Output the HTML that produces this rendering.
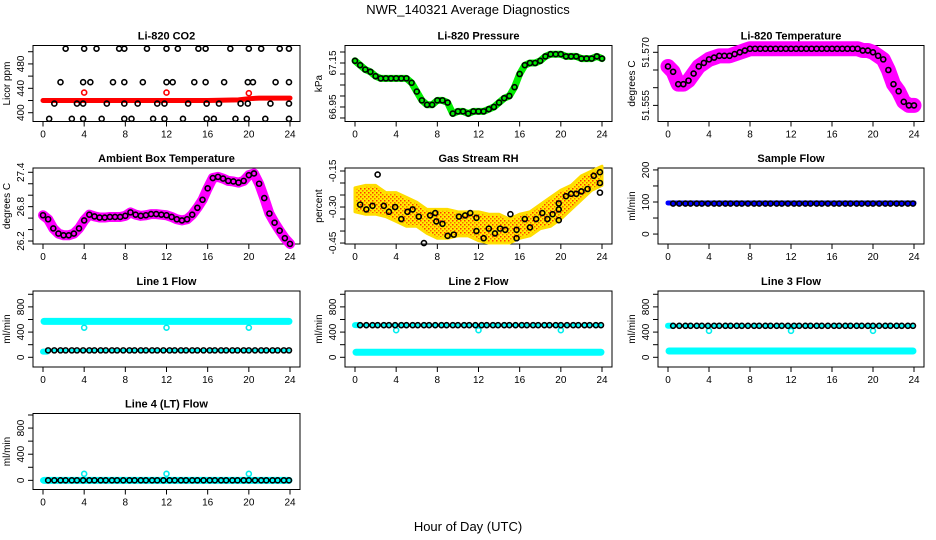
<!DOCTYPE html>
<html><head><meta charset="utf-8">
<style>
html,body{margin:0;padding:0;background:#fff;}
svg{display:block;font-family:"Liberation Sans",sans-serif;}
.t{font-weight:bold;font-size:11px;}
.tk{font-size:10px;}
</style></head>
<body>
<svg id="chart" width="936" height="540" viewBox="0 0 936 540">
<defs>
<pattern id="rhpat" width="4" height="4" patternUnits="userSpaceOnUse">
<rect width="4" height="4" fill="#ffee00"/><rect width="1.5" height="1.5" fill="#ff3300"/><rect x="2" y="2" width="1.5" height="1.5" fill="#ff6600"/>
</pattern>
</defs>
<text x="468" y="14" text-anchor="middle" font-size="13">NWR_140321  Average Diagnostics</text>
<text x="468" y="531" text-anchor="middle" font-size="13">Hour of Day (UTC)</text>
</svg>
<script>
// ---- data ----
const xTicks = [0,4,8,12,16,20,24];
const halfHours = [0,0.5,1,1.5,2,2.5,3,3.5,4,4.5,5,5.5,6,6.5,7,7.5,8,8.5,9,9.5,10,10.5,11,11.5,12,12.5,13,13.5,14,14.5,15,15.5,16,16.5,17,17.5,18,18.5,19,19.5,20,20.5,21,21.5,22,22.5,23,23.5,24];
const blackHours = [0.5,1.1,1.7,2.2,2.8,3.3,3.9,4.5,5.0,5.6,6.1,6.7,7.2,7.8,8.4,8.9,9.5,10.0,10.6,11.1,11.7,12.3,12.8,13.4,13.9,14.5,15.0,15.6,16.2,16.7,17.3,17.8,18.4,18.9,19.5,20.0,20.6,21.2,21.7,22.3,22.8,23.4,23.9];
// CO2
const co2RedHours = [0,4,8,12,16,19,20,21,24];
const co2RedValues = [420,420,420,420,420,421,423,424,424];
const co2OutlierHours = [4,12,20];
const co2OutlierValues = [433,433,432];
const co2BlackHours = [2.2,4,5.2,7.4,7.9,10.1,12,13.1,15.1,15.8,18.2,20,21.2,23,23.9, 1.7,3.9,4.6,6.8,7.9,9.7,12,12.6,14.7,15.8,17.6,19.9,20.4,22.6,23.9, 1.1,3.3,3.9,6.2,7.9,9.2,11.1,11.8,14.1,15.9,17.1,19.2,19.9,22.1,23.9, 0.6,2.8,3.9,5.7,7.9,8.6,10.7,11.8,13.6,15.9,16.6,18.7,19.8,21.6,23.9];
const co2BlackValues = [505,505,505,505,505,505,505,505,505,505,505,505,505,505,505, 450,450,450,450,450,450,450,450,450,450,450,450,450,450,450, 415,415,415,415,415,415,415,415,415,415,415,415,415,415,415, 390,390,390,390,390,390,390,390,390,390,390,390,390,390,390];
// Pressure (kPa)
const pressureValues = [67.16,67.14,67.12,67.11,67.09,67.08,67.08,67.08,67.08,67.08,67.08,67.06,67.02,66.98,66.96,66.96,66.98,66.98,66.97,66.92,66.93,66.93,66.92,66.93,66.93,66.93,66.94,66.95,66.97,66.99,67.0,67.04,67.10,67.14,67.15,67.15,67.16,67.18,67.19,67.19,67.19,67.18,67.18,67.18,67.17,67.17,67.17,67.18,67.17];
// Li-820 temperature
const licorTempValues = [51.566,51.5645,51.561,51.561,51.562,51.564,51.566,51.567,51.568,51.5685,51.569,51.569,51.569,51.5695,51.570,51.5705,51.571,51.571,51.571,51.571,51.571,51.571,51.571,51.571,51.571,51.571,51.571,51.571,51.571,51.571,51.571,51.571,51.571,51.571,51.571,51.571,51.571,51.571,51.5705,51.5705,51.570,51.569,51.568,51.565,51.561,51.559,51.556,51.555,51.555];
// Ambient box temperature
const ambientValues = [26.65,26.58,26.42,26.33,26.3,26.3,26.33,26.42,26.56,26.66,26.63,26.61,26.61,26.62,26.62,26.62,26.64,26.7,26.66,26.64,26.65,26.67,26.67,26.66,26.65,26.62,26.58,26.56,26.58,26.66,26.78,26.92,27.12,27.3,27.32,27.29,27.25,27.24,27.22,27.25,27.35,27.38,27.2,26.95,26.68,26.52,26.38,26.25,26.15];
// Gas stream RH
const rhHours = [0,1,2,3,4,5,6,7,8,9,10,11,12,13,14,15,16,17,18,19,20,21,22,23,24];
const rhMean = [-0.27,-0.27,-0.27,-0.29,-0.30,-0.32,-0.33,-0.36,-0.37,-0.37,-0.37,-0.37,-0.38,-0.39,-0.39,-0.40,-0.38,-0.37,-0.34,-0.32,-0.29,-0.26,-0.22,-0.19,-0.17];
const rhSpread = [0.05,0.06,0.06,0.05,0.06,0.06,0.05,0.05,0.06,0.06,0.05,0.05,0.06,0.06,0.06,0.05,0.05,0.05,0.05,0.06,0.06,0.05,0.05,0.04,0.04];
const rhBlackHours = [0.5,1.1,1.7,2.2,2.8,3.3,3.9,4.5,5.1,5.6,6.2,6.7,7.3,7.8,7.9,8.5,9.0,9.6,10.1,10.7,11.2,11.8,11.8,12.5,13,13.6,14.1,14.6,15.1,15.7,15.7,16.5,17,17.6,18.2,18.7,19.2,19.8,19.8,19.8,20.5,21,21.5,22,22.6,23.2,23.8,23.8,23.8];
const rhBlackValues = [-0.29,-0.31,-0.295,-0.165,-0.295,-0.32,-0.30,-0.35,-0.32,-0.31,-0.34,-0.45,-0.335,-0.325,-0.36,-0.37,-0.42,-0.415,-0.34,-0.335,-0.325,-0.345,-0.40,-0.43,-0.39,-0.41,-0.39,-0.395,-0.33,-0.395,-0.43,-0.35,-0.385,-0.35,-0.325,-0.35,-0.33,-0.355,-0.31,-0.285,-0.255,-0.245,-0.245,-0.235,-0.225,-0.17,-0.155,-0.2,-0.24];
// Sample flow
const sampleBlue = 97;
const sampleBlack = 95;
// Line flows
const flowNames = ["Line 1 Flow","Line 2 Flow","Line 3 Flow","Line 4 (LT) Flow"];
const flowBlack = [110,510,500,0];
const flowCyanMain = [570,80,100,0];
const flowCyanStart = [90,510,500,0];
const flowCyanOutlier = [470,430,420,100];
const outlierHours = [4,12,20];

// ---- layout ----
const svg = document.getElementById('chart');
const NS = 'http://www.w3.org/2000/svg';
const colL = [33,345,658], colR = [300,612,924];
const rowT = [45.5,168,291,413.5], BH = 76;
function mk(tag, attrs, parent){const e=document.createElementNS(NS,tag);for(const k in attrs)e.setAttribute(k,attrs[k]);(parent||svg).appendChild(e);return e;}

function panel(col,row,title,ylab,ymin,ymax,yt,ylabels,name){
  const L=colL[col],R=colR[col],T=rowT[row],B=T+BH;
  const g=mk('g',{});
  
  
  const xs=h=>L+10+(R-L-20)*h/24;
  const ys=v=>B-(v-ymin)/(ymax-ymin)*BH;
  const box=mk('rect',{x:L,y:T,width:R-L,height:BH,fill:'none',stroke:'#000','stroke-width':1},g);
  
  
  const tt=mk('text',{x:(L+R)/2,y:T-6,'text-anchor':'middle',class:'t'},g);tt.textContent=title;
  
  
  const xa=mk('g',{},g);
  
  
  mk('line',{x1:xs(0),x2:xs(24),y1:B,y2:B,stroke:'#000'},xa);
  xTicks.forEach(t=>{mk('line',{x1:xs(t),x2:xs(t),y1:B,y2:B+5,stroke:'#000'},xa);
    const tx=mk('text',{x:xs(t),y:B+16,'text-anchor':'middle',class:'tk'},xa);tx.textContent=t;});
  const ya=mk('g',{},g);
  
  
  mk('line',{x1:L,x2:L,y1:ys(yt[0]),y2:ys(yt[yt.length-1]),stroke:'#000'},ya);
  yt.forEach(t=>mk('line',{x1:L-5,x2:L,y1:ys(t),y2:ys(t),stroke:'#000'},ya));
  ylabels.forEach(l=>{const tx=mk('text',{x:L-9,y:ys(l[0]),'text-anchor':'middle',class:'tk',transform:`rotate(-90 ${L-9} ${ys(l[0])})`},ya);tx.textContent=l[1];});
  const yl=mk('text',{x:L-23,y:(T+B)/2,'text-anchor':'middle',class:'tk',transform:`rotate(-90 ${L-23} ${(T+B)/2})`},g);yl.textContent=ylab;
  
  
  return {g,xs,ys};
}
function band(p,hs,vs,color,w,name){
  const pl=mk('polyline',{points:hs.map((h,i)=>p.xs(h)+','+p.ys(vs[i])).join(' '),fill:'none',stroke:color,'stroke-width':w,'stroke-linejoin':'round','stroke-linecap':'round'},p.g);
  
  
}
function pts(p,hs,vs,color,name,r){
  const g=mk('g',{},p.g);
  
  
  hs.forEach((h,i)=>mk('circle',{cx:p.xs(h),cy:p.ys(vs[i]),r:r||2.5,fill:'none',stroke:color,'stroke-width':1.6},g));
}

let p=panel(0,0,'Li-820 CO2','Licor ppm',385.6,510.2,[400,420,440,460,480,500],[[400,'400'],[440,'440'],[480,'480']],'co2-panel');
band(p,co2RedHours,co2RedValues,'#ff0000',5,'co2-red-series');
pts(p,co2OutlierHours,co2OutlierValues,'#ff0000','co2-red-outliers');
pts(p,co2BlackHours,co2BlackValues,'#000','co2-black-points');

p=panel(1,0,'Li-820 Pressure','kPa',66.884,67.2295,[66.9,66.95,67.0,67.05,67.1,67.15,67.2],[[66.95,'66.95'],[67.15,'67.15']],'pressure-panel');
band(p,halfHours,pressureValues,'#00ee00',7,'pressure-green-series');
pts(p,halfHours,pressureValues,'#000','pressure-black-points');

p=panel(2,0,'Li-820 Temperature','degrees C',51.55045,51.57192,[51.555,51.56,51.565,51.57],[[51.555,'51.555'],[51.57,'51.570']],'licor-temp-panel');
band(p,halfHours,licorTempValues,'#ff00ff',15,'licor-temp-magenta-series');
pts(p,halfHours,licorTempValues,'#000','licor-temp-black-points');

p=panel(0,1,'Ambient Box Temperature','degrees C',26.148,27.475,[26.2,26.4,26.6,26.8,27.0,27.2,27.4],[[26.2,'26.2'],[26.8,'26.8'],[27.4,'27.4']],'ambient-temp-panel');
band(p,halfHours,ambientValues,'#ff00ff',10,'ambient-magenta-series');
pts(p,halfHours,ambientValues,'#000','ambient-black-points');

p=panel(1,1,'Gas Stream RH','percent',-0.454,-0.1375,[-0.45,-0.4,-0.35,-0.3,-0.25,-0.2,-0.15],[[-0.45,'-0.45'],[-0.3,'-0.30'],[-0.15,'-0.15']],'rh-panel');
{const up=rhHours.map((h,i)=>p.xs(h)+','+p.ys(rhMean[i]+rhSpread[i]));
 const dn=rhHours.map((h,i)=>p.xs(h)+','+p.ys(rhMean[i]-rhSpread[i])).reverse();
 const poly=mk('polygon',{points:up.concat(dn).join(' '),fill:'url(#rhpat)',stroke:'#ffdd00','stroke-width':3,'stroke-linejoin':'round'},p.g);
 
 }
pts(p,rhBlackHours,rhBlackValues,'#000','rh-black-points');

p=panel(2,1,'Sample Flow','ml/min',-31,206,[0,50,100,150,200],[[0,'0'],[100,'100'],[200,'200']],'sample-flow-panel');
band(p,[0,24],[sampleBlue,sampleBlue],'#0000ff',5,'sample-blue-series');
pts(p,blackHours,blackHours.map(()=>sampleBlack),'#000','sample-black-points');

const flowPos=[[0,2,-154,1052],[1,2,-154,1052],[2,2,-154,1052],[0,3,-140,1023]];
flowNames.forEach((n,i)=>{
  const fp=flowPos[i];
  const q=panel(fp[0],fp[1],n,'ml/min',fp[2],fp[3],[0,200,400,600,800,1000],[[0,'0'],[400,'400'],[800,'800']],'flow-panel-'+(i+1));
  band(q,[0.1,23.9],[flowCyanMain[i],flowCyanMain[i]],'#00ffff',7,'flow-cyan-series');
  band(q,[0,0.4],[flowCyanStart[i],flowCyanStart[i]],'#00ffff',6,'flow-cyan-start');
  band(q,[0.4,23.9],[flowBlack[i],flowBlack[i]],'#00ffff',3,'flow-cyan-under');
  pts(q,outlierHours,outlierHours.map(()=>flowCyanOutlier[i]),'#00eeee','flow-cyan-outliers');
  pts(q,blackHours,blackHours.map(()=>flowBlack[i]),'#000','flow-black-points');
});
</script>
</body></html>
